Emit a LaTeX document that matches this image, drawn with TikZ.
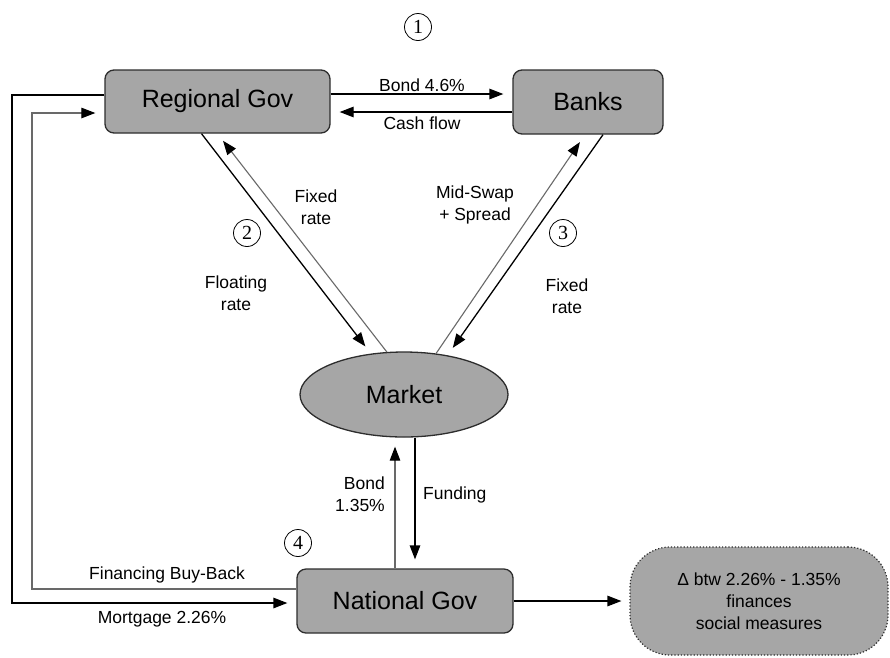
\documentclass[tikz,border=0pt]{standalone}
\usepackage{fontspec}
\setmainfont{Liberation Sans}
\newfontfamily\numfont{Liberation Serif}
\usetikzlibrary{arrows.meta,shapes.geometric}
\definecolor{boxfill}{RGB}{166,166,166}
\definecolor{boxline}{RGB}{45,45,45}
\definecolor{lgray}{RGB}{105,105,105}
\begin{document}
\begin{tikzpicture}[x=1pt,y=-1pt,
  box/.style={draw=boxline, line width=1.3pt, fill=boxfill, rounded corners=9pt, inner sep=0pt, font=\fontsize{25}{29}\selectfont},
  lbl/.style={font=\fontsize{17.5}{21.5}\selectfont, align=center, inner sep=0pt},
  num/.style={draw, circle, line width=0.8pt, minimum size=27pt, inner sep=0pt, font=\numfont\fontsize{20}{20}\selectfont},
  arr/.style={-{Triangle[length=14pt,width=10.5pt,color=black,fill=black]}, line width=1.3pt, shorten >=9pt},
  garr/.style={arr, draw=lgray, line width=1.1pt}
]
\useasboundingbox[fill=white] (0,0) rectangle (890,657);

% nodes
\node[box, minimum width=225pt, minimum height=63pt] (rg) at (217.5,101.5) {Regional Gov};
\node[box, minimum width=150pt, minimum height=64pt] (bk) at (588,102) {Banks};
\node[ellipse, draw=boxline, line width=1.3pt, fill=boxfill, minimum width=208pt, minimum height=85pt, inner sep=0pt, font=\fontsize{25}{29}\selectfont] (mk) at (404,394.5) {Market};
\node[box, minimum width=216pt, minimum height=64pt] (ng) at (405,601) {National Gov};
\node[draw=boxline, dotted, line width=1.2pt, fill=boxfill, rounded corners=40pt, minimum width=258pt, minimum height=108pt, inner sep=0pt, lbl, font=\fontsize{17.5}{22}\selectfont] (res) at (759,601) {Δ btw 2.26\% - 1.35\%\\finances\\social measures};

% circled numbers
\node[num] (n1) at (418,27) {1};
\node[num] (n2) at (247,233) {2};
\node[num] (n3) at (563,233) {3};
\node[num] (n4) at (298,543) {4};

% top arrows
\draw[arr] (rg.east |- 0,94) -- (bk.west |- 0,94);
\draw[arr] (bk.west |- 0,112) -- (rg.east |- 0,112);
\node[lbl] (l1) at (422,85) {Bond 4.6\%};
\node[lbl] (l2) at (422,123) {Cash flow};

% outer loop (mortgage)
\draw[arr] (rg.west |- 0,95) -- (12,95) -- (12,603) -- (ng.west |- 0,603);
% inner loop (buy-back)
\draw[garr] (ng.west |- 0,589) -- (32,589) -- (32,113) -- (rg.west |- 0,113);
\node[lbl] (l3) at (167,575) {Financing Buy-Back};
\node[lbl] (l4) at (162,619) {Mortgage 2.26\%};

% diagonals
\draw[arr] ([xshift=-16pt]rg.south) -- (mk.129);
\draw[garr] (mk.112) -- (rg.south);
\draw[garr] (mk.52) -- ([xshift=-3pt]bk.south);
\draw[arr] ([xshift=15pt]bk.south) -- (mk.42);
\node[lbl] (l5) at (316,207) {Fixed\\rate};
\node[lbl] (l6) at (236,293) {Floating\\rate};
\node[lbl] (l7) at (475,205) {Mid-Swap\\+ Spread};
\node[lbl] (l8) at (567,296) {Fixed\\rate};

% verticals
\draw[garr] ([xshift=-10pt]ng.north) -- ([xshift=-9pt]mk.south);
\draw[arr] ([xshift=11pt]mk.south) -- ([xshift=10pt]ng.north);
\node[lbl, align=right, anchor=east] (l9) at (385,494) {Bond\\1.35\%};
\node[lbl, anchor=west] (l10) at (423,495) {Funding};

% to result
\draw[arr, shorten >=8pt] (ng.east) -- (res.west);
\end{tikzpicture}
\end{document}
